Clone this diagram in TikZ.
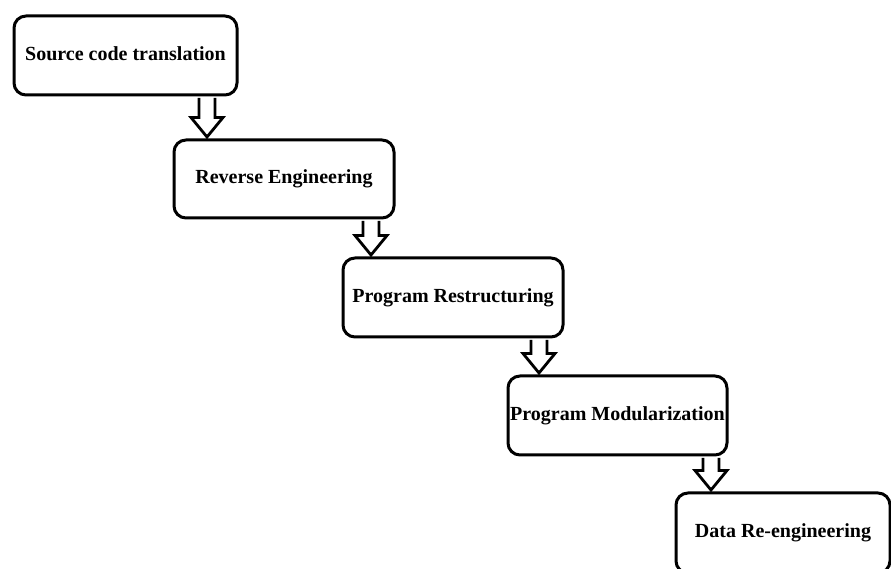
\documentclass[tikz,border=0pt]{standalone}
\usepackage{fontspec}
\setmainfont{Liberation Serif}
\usetikzlibrary{calc}
\tikzset{
  stage/.style={draw=black, line width=3pt, rounded corners=12pt, fill=white,
    font=\bfseries\fontsize{20}{23}\selectfont, inner sep=0pt, align=center},
  barrow/.style={draw=black, line width=2.8pt, fill=white, line join=miter}
}
\newcommand\blockarr[3]{%
  \draw[barrow] let \p1=(#2.south), \p2=(#3.north) in
    ({#1pt-8pt},{\y1-1.5pt}) -- ({#1pt-8pt},{\y2+21pt}) -- ({#1pt-16pt},{\y2+21pt})
    -- ({#1pt},{\y2+1.5pt}) -- ({#1pt+16pt},{\y2+21pt}) -- ({#1pt+8pt},{\y2+21pt})
    -- ({#1pt+8pt},{\y1-1.5pt});}
\begin{document}
\begin{tikzpicture}
\useasboundingbox (0pt,0pt) rectangle (891pt,569pt);
\fill[white] (0pt,0pt) rectangle (891pt,569pt);
\node[stage, minimum width=223pt, minimum height=79pt] (b1) at (125.5pt,513.5pt) {\raisebox{3pt}{Source code translation}};
\node[stage, minimum width=220pt, minimum height=78pt] (b2) at (284pt,390pt) {Reverse Engineering};
\node[stage, minimum width=220pt, minimum height=79pt] (b3) at (453pt,271.5pt) {\raisebox{2pt}{Program Restructuring}};
\node[stage, minimum width=219pt, minimum height=79pt] (b4) at (617.5pt,153.5pt) {\raisebox{1pt}{Program Modularization}};
\node[stage, minimum width=214pt, minimum height=80pt] (b5) at (783pt,36pt) {\raisebox{5pt}{Data Re-engineering}};
\blockarr{207}{b1}{b2}
\blockarr{371}{b2}{b3}
\blockarr{539}{b3}{b4}
\blockarr{711}{b4}{b5}
\end{tikzpicture}
\end{document}
